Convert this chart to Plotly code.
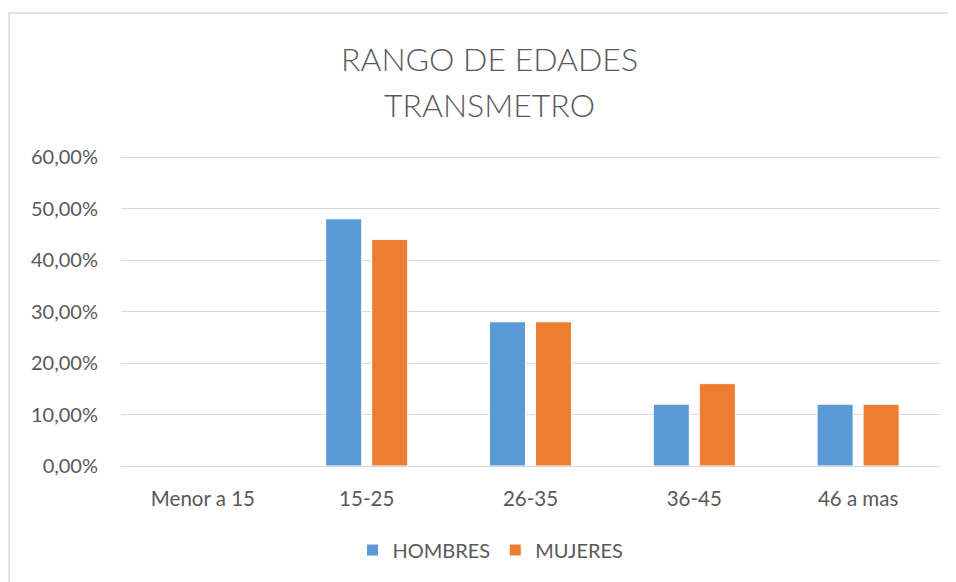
import plotly.graph_objects as go

categories = ["Menor a 15", "15-25", "26-35", "36-45", "46 a mas"]
hombres = [0.0, 0.48, 0.28, 0.12, 0.12]
mujeres = [0.0, 0.44, 0.28, 0.16, 0.12]
tick_vals = [0, 0.1, 0.2, 0.3, 0.4, 0.5, 0.6]
title_lines = ["RANGO DE EDADES", "TRANSMETRO"]

FONT = "Lato"
GREY = "#595959"

# page body has an 8px margin, so the figure is 8px smaller each way
W, H = 948, 574
ML, MR, MT, MB = 113, 16, 147, 116
PW, PH = W - ML - MR, H - MT - MB
YMAX = 0.6 * PH / (PH - 2)   # keep the 60% gridline just inside the plot area

fig = go.Figure()
fig.add_trace(go.Bar(name="HOMBRES", x=categories, y=hombres,
                     marker=dict(color="#5b9bd5", line=dict(color="white", width=1))))
fig.add_trace(go.Bar(name="MUJERES", x=categories, y=mujeres,
                     marker=dict(color="#ed7d31", line=dict(color="white", width=1))))

fig.update_layout(
    width=W, height=H,
    paper_bgcolor="white", plot_bgcolor="white",
    separators=",.",
    margin=dict(l=ML, r=MR, t=MT, b=MB, autoexpand=False),
    barmode="group", bargap=0.438, bargroupgap=0.217,
    font=dict(family=FONT, color=GREY, size=20),
    legend=dict(orientation="h", x=0.5 - 40 / PW, xanchor="center",
                y=-(550 - 8 - (H - MB)) / PH, yanchor="middle",
                font=dict(size=20, color=GREY), itemwidth=30, traceorder="normal"),
    showlegend=True,
)
# title lines, centred at page y 58 and 104
for txt, py in zip(title_lines, [58, 104]):
    fig.add_annotation(text=txt, xref="paper", yref="paper", x=0.5 + (489 - 8 - ML - PW / 2) / PW,
                       y=((H - MB) - (py - 8)) / PH, xanchor="center", yanchor="middle",
                       showarrow=False, font=dict(family=FONT, size=32, color=GREY, weight=300))

fig.update_yaxes(range=[0, YMAX], tickvals=tick_vals, tickformat=".2%",
                 showgrid=True, gridcolor="#d9d9d9", gridwidth=1,
                 zeroline=True, zerolinecolor="#d9d9d9", zerolinewidth=1,
                 showline=False, ticklabelstandoff=22,
                 tickfont=dict(size=20, color=GREY))
fig.update_xaxes(showline=False, showgrid=False, ticklabelstandoff=18,
                 tickfont=dict(size=20.5, color=GREY))

fig.add_shape(type="rect", xref="paper", yref="paper",
              x0=(1 - ML) / PW, x1=1.2,
              y0=-0.6, y1=((H - MB) - 5) / PH,
              line=dict(color="#d9d9d9", width=1.5), fillcolor="rgba(0,0,0,0)", layer="below")

fig.write_html("out.html")
